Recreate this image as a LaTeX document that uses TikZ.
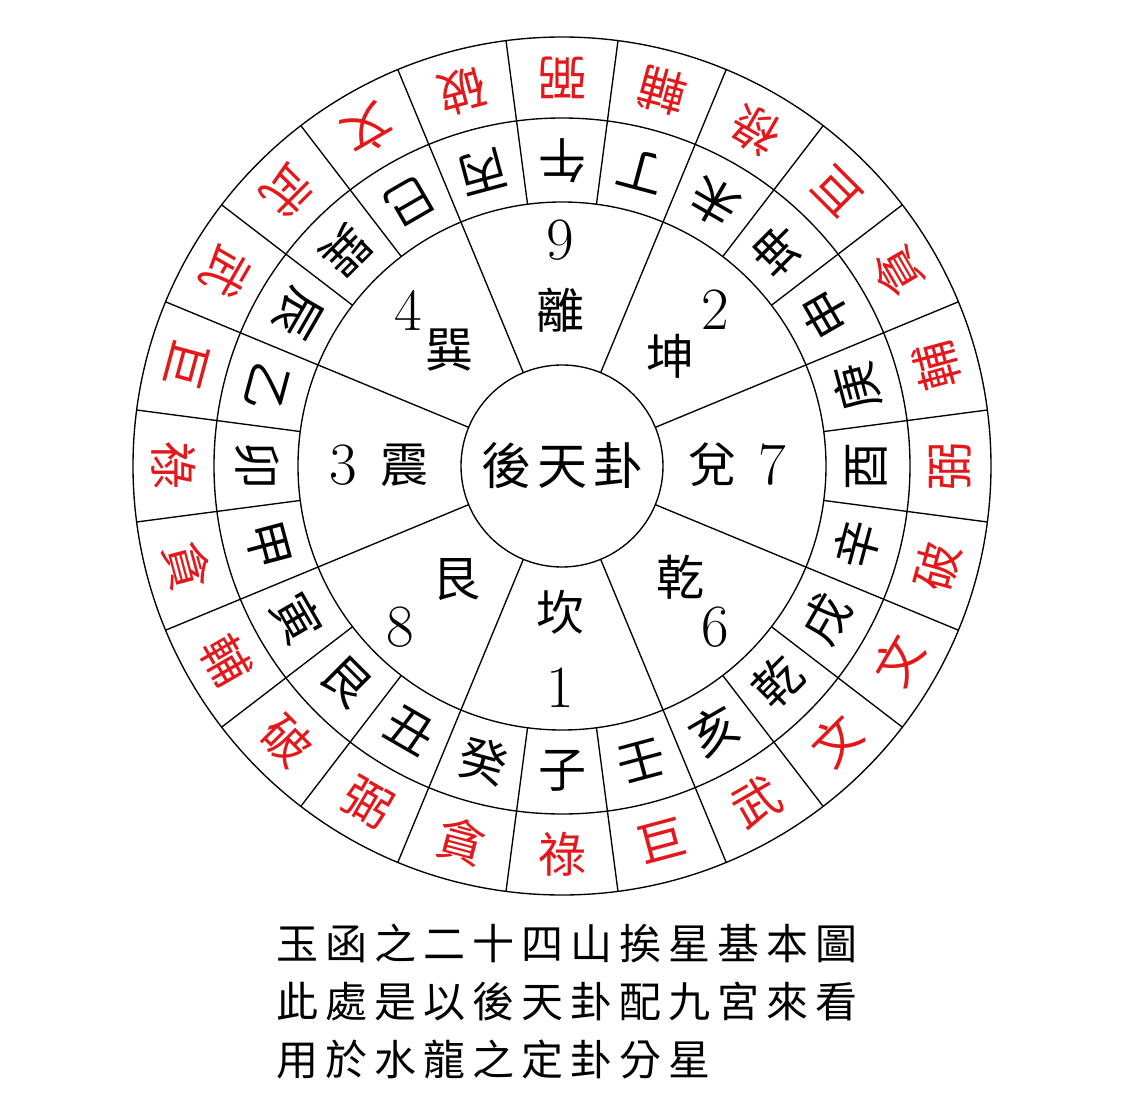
\documentclass[tikz,border=0pt]{standalone}
\usepackage{fontspec}
\newfontfamily\cjk{Noto Sans CJK TC}
\definecolor{starred}{RGB}{228,24,26}
\begin{document}
\begin{tikzpicture}[x=1pt,y=1pt,line width=1.35pt,
  ringtxt/.style={font=\cjk\fontsize{48}{48}\selectfont, inner sep=0pt},
  startxt/.style={ringtxt, text=starred},
  guatxt/.style={font=\cjk\fontsize{48}{48}\selectfont, inner sep=0pt},
  numtxt/.style={font=\fontsize{60}{60}\selectfont, inner sep=0pt},
  captxt/.style={font=\cjk\fontsize{42}{58}\selectfont, inner sep=0pt, align=left, anchor=north west}]
\useasboundingbox (-562pt,-650pt) rectangle (564pt,466pt);
\fill[white] (-562pt,-650pt) rectangle (564pt,466pt);
% circles
\draw (0,0) circle (429pt);
\draw (0,0) circle (348pt);
\draw (0,0) circle (264pt);
\draw (0,0) circle (101pt);
% 24 divisions
\foreach \a in {7.5,22.5,...,352.5} \draw (\a:264pt) -- (\a:429pt);
% 8 divisions
\foreach \a in {22.5,67.5,...,337.5} \draw (\a:101pt) -- (\a:264pt);
% mountains and stars
\foreach \m/\s [count=\i from 0] in {午/弼,丁/輔,未/祿,坤/巨,申/貪,庚/輔,酉/弼,辛/破,戌/文,乾/文,亥/武,壬/巨,子/祿,癸/貪,丑/弼,艮/破,寅/輔,甲/貪,卯/祿,乙/巨,辰/武,巽/武,巳/文,丙/破}
{
  \pgfmathsetmacro\ang{90-15*\i}
  \node[ringtxt, rotate=\ang+90] (m\i) at (\ang:305pt) {\m};
  \node[startxt, rotate=\ang+90] (s\i) at (\ang:388pt) {\s};
}
% centre
\node[font=\cjk\fontsize{50}{50}\selectfont, inner sep=0pt] (hou) at (0pt,0pt) {後\hspace{6pt}天\hspace{6pt}卦};
% trigrams
\node[numtxt] (n9) at (-2pt,226pt) {9};
\node[guatxt] (g9) at (-2pt,156pt) {離};
\node[numtxt] (n2) at (153pt,156pt) {2};
\node[guatxt] (g2) at (108pt,110pt) {坤};
\node[guatxt] (g7) at (150pt,1pt) {兌};
\node[numtxt] (n7) at (210pt,1pt) {7};
\node[guatxt] (g6) at (118pt,-111pt) {乾};
\node[numtxt] (n6) at (153pt,-161pt) {6};
\node[guatxt] (g1) at (-2pt,-146pt) {坎};
\node[numtxt] (n1) at (-2pt,-222pt) {1};
\node[guatxt] (g8) at (-105pt,-114pt) {艮};
\node[numtxt] (n8) at (-162pt,-161pt) {8};
\node[numtxt] (n3) at (-219pt,1pt) {3};
\node[guatxt] (g3) at (-157pt,1pt) {震};
\node[numtxt] (n4) at (-154pt,156pt) {4};
\node[guatxt] (g4) at (-112pt,116pt) {巽};
% caption
\node[captxt] (cap) at (-286pt,-457pt) {玉\,函\,之\,二\,十\,四\,山\,挨\,星\,基\,本\,圖\\此\,處\,是\,以\,後\,天\,卦\,配\,九\,宮\,來\,看\\用\,於\,水\,龍\,之\,定\,卦\,分\,星};
\end{tikzpicture}
\end{document}
